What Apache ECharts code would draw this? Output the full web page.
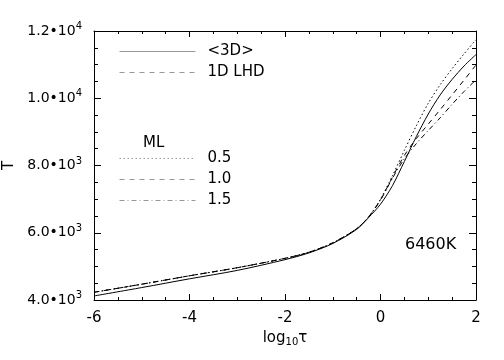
<!DOCTYPE html>
<html>
<head>
<meta charset="utf-8">
<script src="https://cdn.jsdelivr.net/npm/echarts@6/dist/echarts.min.js"></script>
<style>html,body{margin:0;padding:0;background:#fff}#c{width:504px;height:360px}</style>
</head>
<body>
<div id="c"></div>
<script>
// ---- data ----
var logTau = [-6,-5,-4,-3,-2,-1.5,-1,-0.5,-0.25,0,0.25,0.5,0.75,1,1.25,1.5,1.75,2];
var T3D    = [4120,4370,4630,4880,5200,5400,5680,6100,6450,6850,7400,8120,8860,9530,10100,10560,10960,11300];
var ML05   = [4230,4470,4720,4960,5240,5420,5700,6120,6470,7000,7700,8450,9180,9850,10400,10880,11320,11740];
var ML10   = [4230,4470,4720,4960,5240,5420,5700,6120,6470,6980,7650,8300,8800,9230,9660,10100,10540,10990];
var ML15   = [4230,4470,4720,4960,5240,5420,5700,6120,6470,6970,7620,8200,8650,9040,9420,9820,10200,10550];
var xTicks = [-6,-4,-2,0,2];
var yTicks = [4000,6000,8000,10000,12000];
var legendTop = ['<3D>','1D LHD'];
var legendML = ['0.5','1.0','1.5'];
var tempLabel = '6460K';

function pairs(ys){ return logTau.map(function(x,i){ return [x, ys[i]]; }); }
var FONT = 'DejaVu Sans';
var chart = echarts.init(document.getElementById('c'));
function yFmt(v){
  var e = Math.floor(Math.log10(v) + 1e-9);
  var m = (v/Math.pow(10,e)).toFixed(1);
  return '{b|' + m + '\u202210}{s|' + e + '}';
}
function axisStyle(major, minor){
  return {
    axisLine:{show:true, onZero:false, lineStyle:{color:'#000', width:1}},
    axisTick:{show:true, inside:true, length:major, lineStyle:{color:'#000'}},
    minorTick:{show:true, splitNumber:4, length:minor, lineStyle:{color:'#000'}},
    splitLine:{show:false}
  };
}
function line(name, data, type){
  return {name:name, type:'line', data:data, symbol:'none', smooth:0.3,
    lineStyle:{color:'#000', width:1, type:type}, itemStyle:{color:'#000'}, z:3};
}
var dashDot = [5,3,1,3];
var legendCommon = {orient:'vertical', left:114, itemWidth:76, itemHeight:14, itemGap:6,
  itemStyle:{opacity:0}, lineStyle:{color:'#999', width:1},
  textStyle:{fontFamily:FONT, fontSize:15, color:'#000', padding:[0,0,0,7]}};
chart.setOption({
  animation:false,
  backgroundColor:'#fff',
  textStyle:{fontFamily:FONT},
  grid:{left:94, right:28, top:31, bottom:60, outerBoundsMode:'none', containLabel:false},
  title:[
    {text:'ML', left:138, top:131, textStyle:{fontFamily:FONT, fontSize:15, fontWeight:'normal', color:'#000'}},
    {text:tempLabel, left:400, top:232, textStyle:{fontFamily:FONT, fontSize:16, fontWeight:'normal', color:'#000'}}
  ],
  legend:[
    Object.assign({data:legendTop, top:39}, legendCommon),
    Object.assign({data:legendML, top:146}, legendCommon)
  ],
  xAxis:[
    Object.assign({type:'value', min:xTicks[0], max:xTicks[xTicks.length-1], interval:2,
      name:'{a|log}{s|10}{a|\u03c4}', nameLocation:'middle', nameGap:28,
      nameTextStyle:{rich:{a:{fontFamily:FONT, fontSize:15, color:'#000'}, s:{fontFamily:FONT, fontSize:10, color:'#000', padding:[8,0,0,0]}}},
      axisLabel:{margin:11, fontFamily:FONT, fontSize:15, color:'#000'}}, axisStyle(6,3)),
    Object.assign({type:'value', position:'top', min:-6, max:2, interval:2, axisLabel:{show:false}}, axisStyle(6,3))
  ],
  yAxis:[
    Object.assign({type:'value', min:yTicks[0], max:yTicks[yTicks.length-1], interval:2000,
      name:'T', nameLocation:'middle', nameGap:72, nameRotate:90,
      nameTextStyle:{fontFamily:FONT, fontSize:15, color:'#000'},
      axisLabel:{margin:12, formatter:yFmt, rich:{b:{fontFamily:FONT, fontSize:14, color:'#000'}, s:{fontFamily:FONT, fontSize:10, color:'#000', padding:[0,0,9,0]}}}}, axisStyle(7,4)),
    Object.assign({type:'value', position:'right', min:4000, max:12000, interval:2000, axisLabel:{show:false}}, axisStyle(7,4))
  ],
  series:[
    line('<3D>', pairs(T3D), 'solid'),
    {name:'1D LHD', type:'line', data:[], symbol:'none', lineStyle:{color:'#000', width:1, type:[5,5]}},
    line('0.5', pairs(ML05), [1.5,2.5]),
    line('1.0', pairs(ML10), [5,5]),
    line('1.5', pairs(ML15), dashDot)
  ]
});
</script>
</body>
</html>
